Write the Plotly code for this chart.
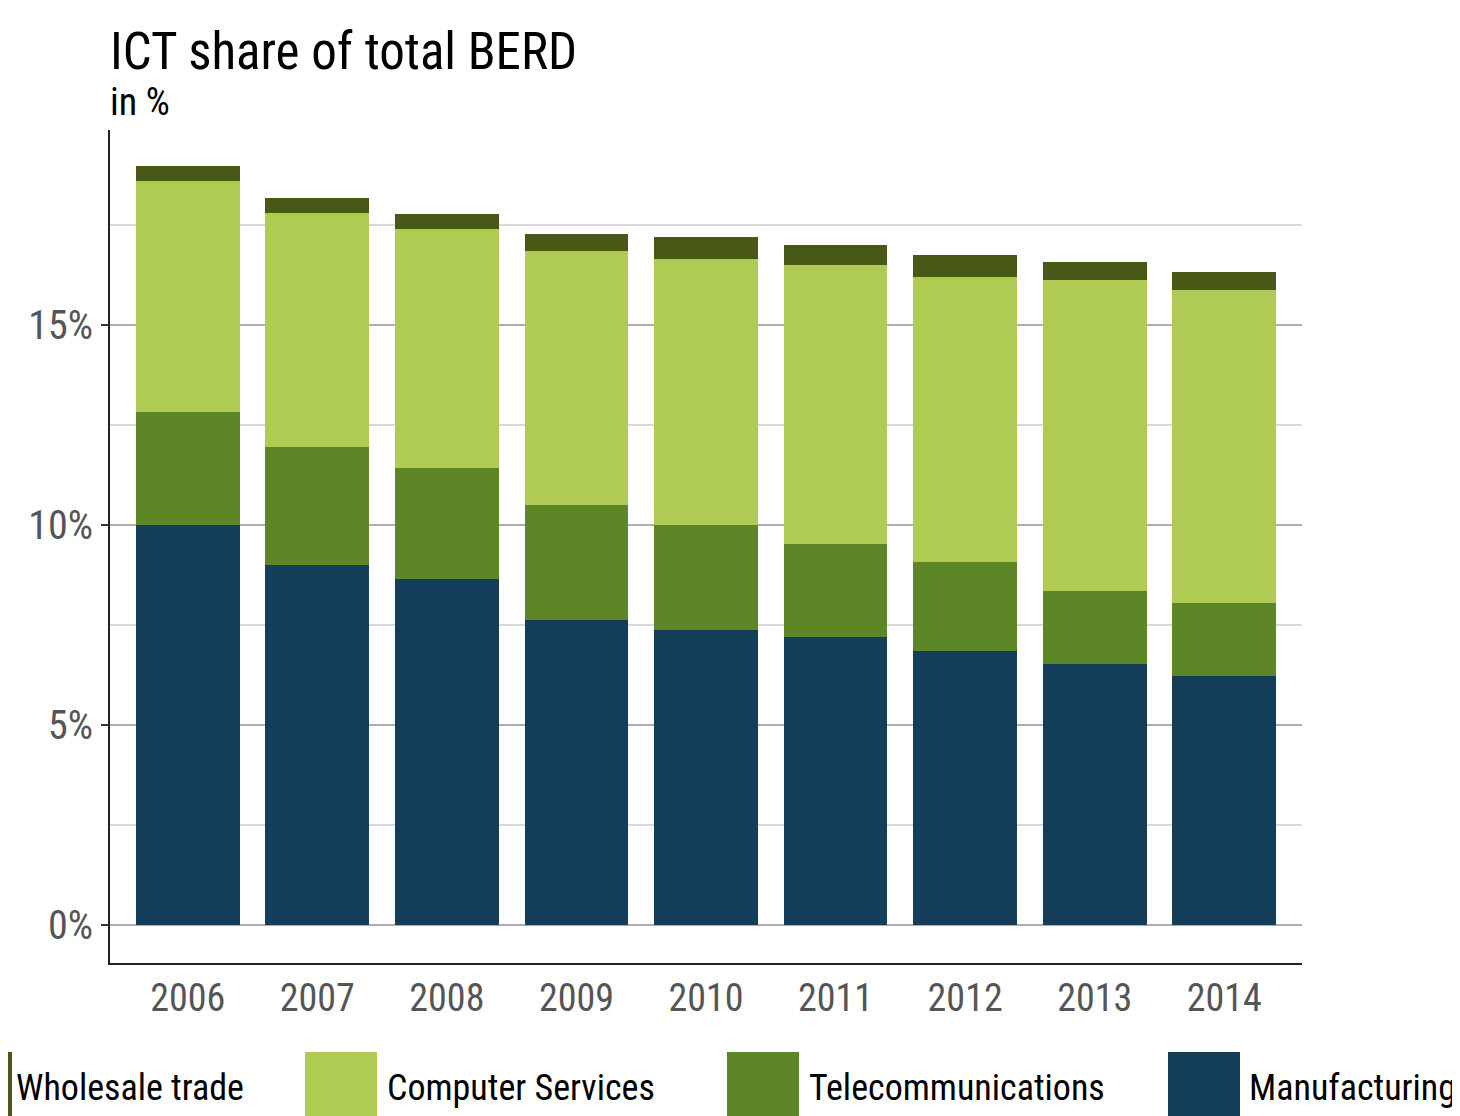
import plotly.graph_objects as go

years = ["2006", "2007", "2008", "2009", "2010", "2011", "2012", "2013", "2014"]
manufacturing = [10.0, 9.0, 8.65, 7.625, 7.375, 7.2, 6.85, 6.525, 6.225]
telecommunications = [2.825, 2.95, 2.775, 2.875, 2.625, 2.325, 2.225, 1.825, 1.825]
computer_services = [5.775, 5.85, 5.975, 6.35, 6.65, 6.975, 7.125, 7.775, 7.825]
wholesale_trade = [0.375, 0.375, 0.375, 0.425, 0.55, 0.5, 0.55, 0.45, 0.45]
y_ticks = [0, 5, 10, 15]
y_labels = ["0%", "5%", "10%", "15%"]

series = [
    ("Manufacturing", manufacturing, "#143d59"),
    ("Telecommunications", telecommunications, "#5d8726"),
    ("Computer Services", computer_services, "#b0cb53"),
    ("Wholesale trade", wholesale_trade, "#475817"),
]

FONT = "Liberation Sans Narrow, Roboto Condensed, Arial Narrow, Liberation Sans, sans-serif"

# page body has an 8px margin, so everything is laid out 8px up/left
OFF = 8
W, H = 1460, 1116
L, R, T, B = 110 - OFF, 158 + OFF, 130 - OFF, 153 + OFF
pw, ph = W - L - R, H - T - B


def px(x):
    return (x - OFF - L) / pw


def py(y):
    return (H - B - (y - OFF)) / ph


fig = go.Figure()
for name, vals, color in series:
    fig.add_trace(go.Bar(x=years, y=vals, name=name, marker=dict(color=color, line=dict(width=0))))

# custom legend (big swatches at the bottom, first one mostly cut off on the left)
legend_order = ["Wholesale trade", "Computer Services", "Telecommunications", "Manufacturing"]
legend_swatch = [(8, 12), (305, 377), (727, 799), (1168, 1240)]
legend_text_x = [14, 385, 807, 1247]
colors = {n: c for n, _, c in series}
shapes, annotations = [], []
for name, (x0, x1), tx in zip(legend_order, legend_swatch, legend_text_x):
    shapes.append(dict(type="rect", xref="paper", yref="paper",
                       x0=px(x0), x1=px(x1), y0=py(1052), y1=py(1130),
                       fillcolor=colors[name], line=dict(width=0), layer="above"))
    annotations.append(dict(xref="paper", yref="paper", x=px(tx), y=py(1088),
                            text=name, showarrow=False, xanchor="left", yanchor="middle",
                            font=dict(family=FONT, size=36, color="#000")))

annotations.append(dict(xref="paper", yref="paper", x=px(108), y=py(51), text="ICT share of total BERD",
                        showarrow=False, xanchor="left", yanchor="middle",
                        font=dict(family=FONT, size=51, color="#000")))
annotations.append(dict(xref="paper", yref="paper", x=px(108), y=py(102), text="in %",
                        showarrow=False, xanchor="left", yanchor="middle",
                        font=dict(family=FONT, size=38, color="#000")))

fig.update_layout(
    width=W, height=H,
    margin=dict(l=L, r=R, t=T, b=B, pad=0),
    barmode="stack", bargap=0.2,
    plot_bgcolor="white", paper_bgcolor="white",
    showlegend=False,
    shapes=shapes, annotations=annotations,
    font=dict(family=FONT),
)
fig.update_xaxes(
    type="category", range=[-0.6, 8.6],
    showline=True, linecolor="#222", linewidth=2, showgrid=False,
    ticks="", tickfont=dict(family=FONT, size=38, color="#555"),
)
fig.update_yaxes(
    range=[-0.95, 19.875], tickmode="array", tickvals=y_ticks, ticktext=y_labels,
    showline=True, linecolor="#222", linewidth=2,
    showgrid=True, gridcolor="#adadad", gridwidth=2, zeroline=False,
    ticks="outside", ticklen=7, tickwidth=2, tickcolor="#333",
    tickfont=dict(family=FONT, size=40, color="#555"),
    minor=dict(tickvals=[2.5, 7.5, 12.5, 17.5], showgrid=True, gridcolor="#d9d9d9", gridwidth=1.5, ticks=""),
)

fig.write_html("out.html")
